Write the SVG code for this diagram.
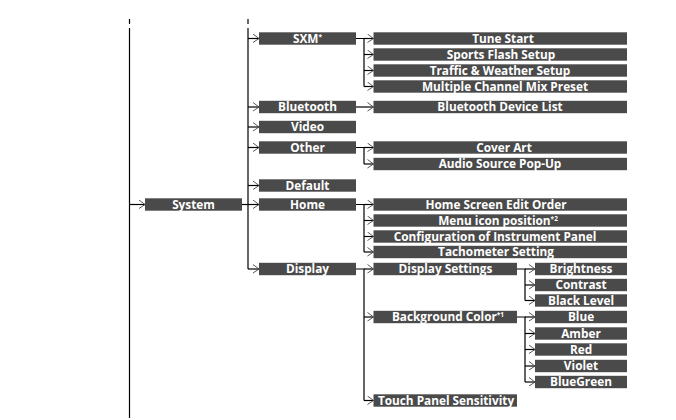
<svg xmlns="http://www.w3.org/2000/svg" width="676" height="420" viewBox="0 0 676 420">
<defs>
<marker id="chev" markerUnits="userSpaceOnUse" markerWidth="8" markerHeight="12" refX="6.5" refY="5" orient="auto" viewBox="0 0 8 12">
<path d="M0.5,0.5 L6.5,5 L0.5,9" fill="none" stroke="#444" stroke-width="0.9"/>
</marker>
<style>
.b{fill:#4a4a4a}
.t{fill:#fff;font-family:"Open Sans","DejaVu Sans",sans-serif;font-weight:bold;font-size:11.8px;text-anchor:middle}
.s{font-size:6.5px}
.c path{fill:none;stroke:#000;stroke-width:1.2}
.c path.a{marker-end:url(#chev)}
</style>
</defs>
<rect width="676" height="420" fill="#fff"/>
<g class="c" id="connectors">
<path d="M129.5,19V24"/>
<path d="M129.5,28V418"/>
<path class="a" d="M129.5,204.5H145"/>
<path d="M248,19V24"/>
<path d="M248,28V269"/>
<path d="M242,204.5H248"/>
<path class="a" d="M248,38.5H259"/>
<path class="a" d="M248,107H259"/>
<path class="a" d="M248,127H259"/>
<path class="a" d="M248,147.5H259"/>
<path class="a" d="M248,185.5H259"/>
<path class="a" d="M248,204.5H259"/>
<path class="a" d="M248,269H259"/>
<path d="M356,38.5H364V86.5"/>
<path class="a" d="M364,38.5H373.5"/>
<path class="a" d="M364,54.5H373.5"/>
<path class="a" d="M364,70.5H373.5"/>
<path class="a" d="M364,86.5H373.5"/>
<path class="a" d="M356,107H373.5"/>
<path d="M356,147.5H364V164"/>
<path class="a" d="M364,147.5H373.5"/>
<path class="a" d="M364,164H373.5"/>
<path d="M356,204.5H364V252"/>
<path class="a" d="M364,204.5H373.5"/>
<path class="a" d="M364,220.5H373.5"/>
<path class="a" d="M364,236.5H373.5"/>
<path class="a" d="M364,252H373.5"/>
<path d="M356,269H364V400.5"/>
<path class="a" d="M364,269H373.5"/>
<path class="a" d="M364,317H373.5"/>
<path class="a" d="M364,400.5H373.5"/>
<path d="M517,269H525V300.5"/>
<path class="a" d="M525,269H535"/>
<path class="a" d="M525,285H535"/>
<path class="a" d="M525,300.5H535"/>
<path d="M517,317H525V382"/>
<path class="a" d="M525,317H535"/>
<path class="a" d="M525,333.5H535"/>
<path class="a" d="M525,349.5H535"/>
<path class="a" d="M525,366H535"/>
<path class="a" d="M525,382H535"/>
</g>
<g id="system"><rect class="b" x="145" y="198.3" width="97" height="12.4"/><text class="t" x="193.5" y="208.7">System</text></g>
<g id="sxm"><rect class="b" x="259" y="32.3" width="97" height="12.4"/><text class="t" x="307.5" y="42.7">SXM<tspan class="s" dy="-4">*</tspan></text></g>
<g id="bluetooth"><rect class="b" x="259" y="100.8" width="97" height="12.4"/><text class="t" x="307.5" y="111.2">Bluetooth</text></g>
<g id="video"><rect class="b" x="259" y="120.8" width="97" height="12.4"/><text class="t" x="307.5" y="131.2">Video</text></g>
<g id="other"><rect class="b" x="259" y="141.3" width="97" height="12.4"/><text class="t" x="307.5" y="151.7">Other</text></g>
<g id="default"><rect class="b" x="259" y="179.3" width="97" height="12.4"/><text class="t" x="307.5" y="189.7">Default</text></g>
<g id="home"><rect class="b" x="259" y="198.3" width="97" height="12.4"/><text class="t" x="307.5" y="208.7">Home</text></g>
<g id="display"><rect class="b" x="259" y="262.8" width="97" height="12.4"/><text class="t" x="307.5" y="273.2">Display</text></g>
<g id="tune-start"><rect class="b" x="373.5" y="32.3" width="253.5" height="12.4"/><text class="t" x="503" y="42.7">Tune Start</text></g>
<g id="sports-flash"><rect class="b" x="373.5" y="48.3" width="253.5" height="12.4"/><text class="t" x="501" y="58.7">Sports Flash Setup</text></g>
<g id="traffic"><rect class="b" x="373.5" y="64.3" width="253.5" height="12.4"/><text class="t" x="500" y="74.7">Traffic &amp; Weather Setup</text></g>
<g id="multiple"><rect class="b" x="373.5" y="80.3" width="253.5" height="12.4"/><text class="t" x="505" y="90.7">Multiple Channel Mix Preset</text></g>
<g id="bt-device"><rect class="b" x="373.5" y="100.8" width="253.5" height="12.4"/><text class="t" x="500" y="111.2">Bluetooth Device List</text></g>
<g id="cover-art"><rect class="b" x="373.5" y="141.3" width="253.5" height="12.4"/><text class="t" x="504" y="151.7">Cover Art</text></g>
<g id="audio-source"><rect class="b" x="373.5" y="157.8" width="253.5" height="12.4"/><text class="t" x="500" y="168.2">Audio Source Pop-Up</text></g>
<g id="home-screen"><rect class="b" x="373.5" y="198.3" width="253.5" height="12.4"/><text class="t" x="496" y="208.7">Home Screen Edit Order</text></g>
<g id="menu-icon"><rect class="b" x="373.5" y="214.3" width="253.5" height="12.4"/><text class="t" x="498" y="224.7">Menu icon position<tspan class="s" dy="-4">*2</tspan></text></g>
<g id="config"><rect class="b" x="373.5" y="230.3" width="253.5" height="12.4"/><text class="t" x="495" y="240.7">Configuration of Instrument Panel</text></g>
<g id="tacho"><rect class="b" x="373.5" y="245.8" width="253.5" height="12.4"/><text class="t" x="496" y="256.2">Tachometer Setting</text></g>
<g id="display-settings"><rect class="b" x="373.5" y="262.8" width="143.5" height="12.4"/><text class="t" x="445.5" y="273.2">Display Settings</text></g>
<g id="background-color"><rect class="b" x="373.5" y="310.8" width="143.5" height="12.4"/><text class="t" x="448" y="321.2">Background Color<tspan class="s" dy="-4">*1</tspan></text></g>
<g id="touch-panel"><rect class="b" x="373.5" y="394.3" width="143.5" height="12.4"/><text class="t" x="446" y="404.7">Touch Panel Sensitivity</text></g>
<g id="brightness"><rect class="b" x="535" y="262.8" width="92" height="12.4"/><text class="t" x="581" y="273.2">Brightness</text></g>
<g id="contrast"><rect class="b" x="535" y="278.8" width="92" height="12.4"/><text class="t" x="581" y="289.2">Contrast</text></g>
<g id="black-level"><rect class="b" x="535" y="294.3" width="92" height="12.4"/><text class="t" x="581" y="304.7">Black Level</text></g>
<g id="blue"><rect class="b" x="535" y="310.8" width="92" height="12.4"/><text class="t" x="581" y="321.2">Blue</text></g>
<g id="amber"><rect class="b" x="535" y="327.3" width="92" height="12.4"/><text class="t" x="581" y="337.7">Amber</text></g>
<g id="red"><rect class="b" x="535" y="343.3" width="92" height="12.4"/><text class="t" x="581" y="353.7">Red</text></g>
<g id="violet"><rect class="b" x="535" y="359.8" width="92" height="12.4"/><text class="t" x="581" y="370.2">Violet</text></g>
<g id="bluegreen"><rect class="b" x="535" y="375.8" width="92" height="12.4"/><text class="t" x="581" y="386.2">BlueGreen</text></g>
</svg>
